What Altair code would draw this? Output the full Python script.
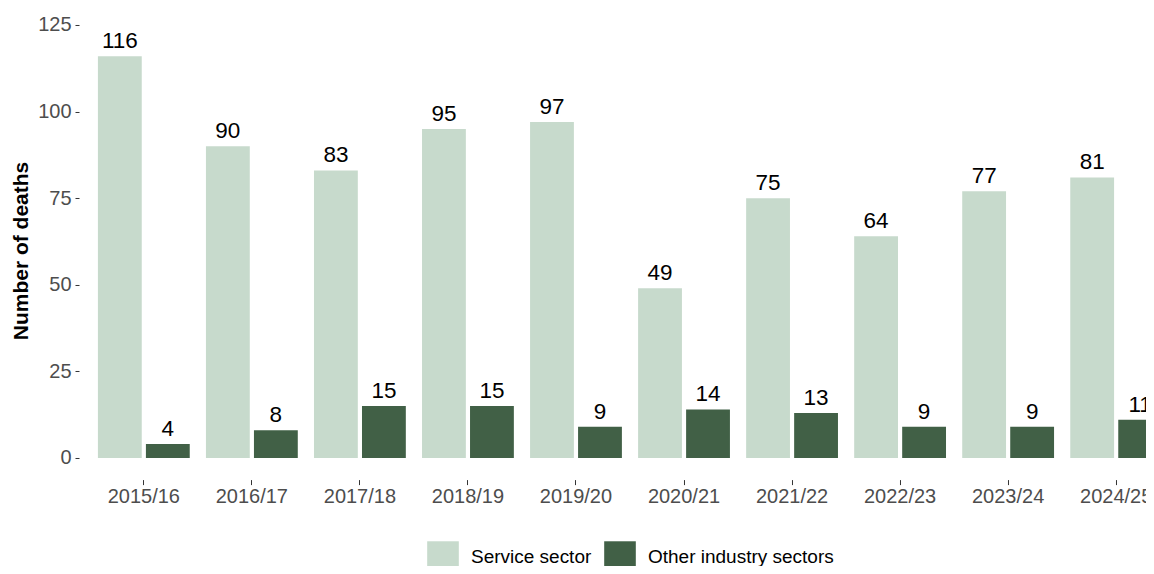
import altair as alt
import pandas as pd

years = ["2015/16", "2016/17", "2017/18", "2018/19", "2019/20",
         "2020/21", "2021/22", "2022/23", "2023/24", "2024/25"]
service = [116, 90, 83, 95, 97, 49, 75, 64, 77, 81]
other = [4, 8, 15, 15, 9, 14, 13, 9, 9, 11]
sectors = ["Service sector", "Other industry sectors"]
colors = ["#C7DACC", "#416046"]

rows = []
for yr, s, o in zip(years, service, other):
    rows.append({"year": yr, "sector": sectors[0], "deaths": s})
    rows.append({"year": yr, "sector": sectors[1], "deaths": o})
df = pd.DataFrame(rows)

FONT = "Liberation Sans"
W = 1067
H = 471.6

x = alt.X("year:N", sort=years, title=None,
          scale=alt.Scale(range=[0, 1102], paddingInner=0.15, paddingOuter=0.175),
          axis=alt.Axis(labelAngle=0, labelFontSize=20, labelColor="#4D4D4D",
                        labelFont=FONT, tickColor="#333333", tickSize=5,
                        tickWidth=1, domain=False, labelPadding=2, grid=False))
xo = alt.XOffset("sector:N", sort=sectors,
                 scale=alt.Scale(paddingInner=0.087, paddingOuter=0))
y = alt.Y("deaths:Q", title="Number of deaths", stack=None,
          scale=alt.Scale(domain=[-6.25, 129.9], nice=False, zero=False),
          axis=alt.Axis(values=[0, 25, 50, 75, 100, 125], grid=False, domain=False,
                        labelFontSize=20, labelColor="#4D4D4D", labelFont=FONT,
                        tickColor="#333333", tickSize=4, tickWidth=1, labelPadding=4,
                        titleFontSize=21, titleFont=FONT, titleFontWeight="bold",
                        titleColor="black", titleAngle=270, titleAlign="center",
                        titleBaseline="alphabetic", titleX=-52, titleY=242.5))

base = alt.Chart(df).encode(x=x, xOffset=xo, y=y)

bars = base.mark_bar().encode(
    color=alt.Color("sector:N", sort=sectors,
                    scale=alt.Scale(domain=sectors, range=colors),
                    legend=alt.Legend(orient="none", legendX=348, legendY=533,
                                      direction="horizontal", title=None,
                                      symbolType="square", symbolSize=1000,
                                      symbolStrokeWidth=0, labelFontSize=19,
                                      labelFont=FONT, labelColor="black",
                                      labelLimit=0,
                                      labelOffset=12, columnPadding=12))
)

labels = base.mark_text(baseline="alphabetic", dy=-8, fontSize=22.5,
                        font=FONT, color="black").encode(text="deaths:Q")

chart = (bars + labels).properties(
    width=W, height=H,
    autosize=alt.AutoSizeParams(type="none"),
    padding={"left": 71, "top": 0, "right": 0, "bottom": 86},
).configure_view(stroke=None)

chart.save("out.html", embed_options={"renderer": "svg", "actions": False})
